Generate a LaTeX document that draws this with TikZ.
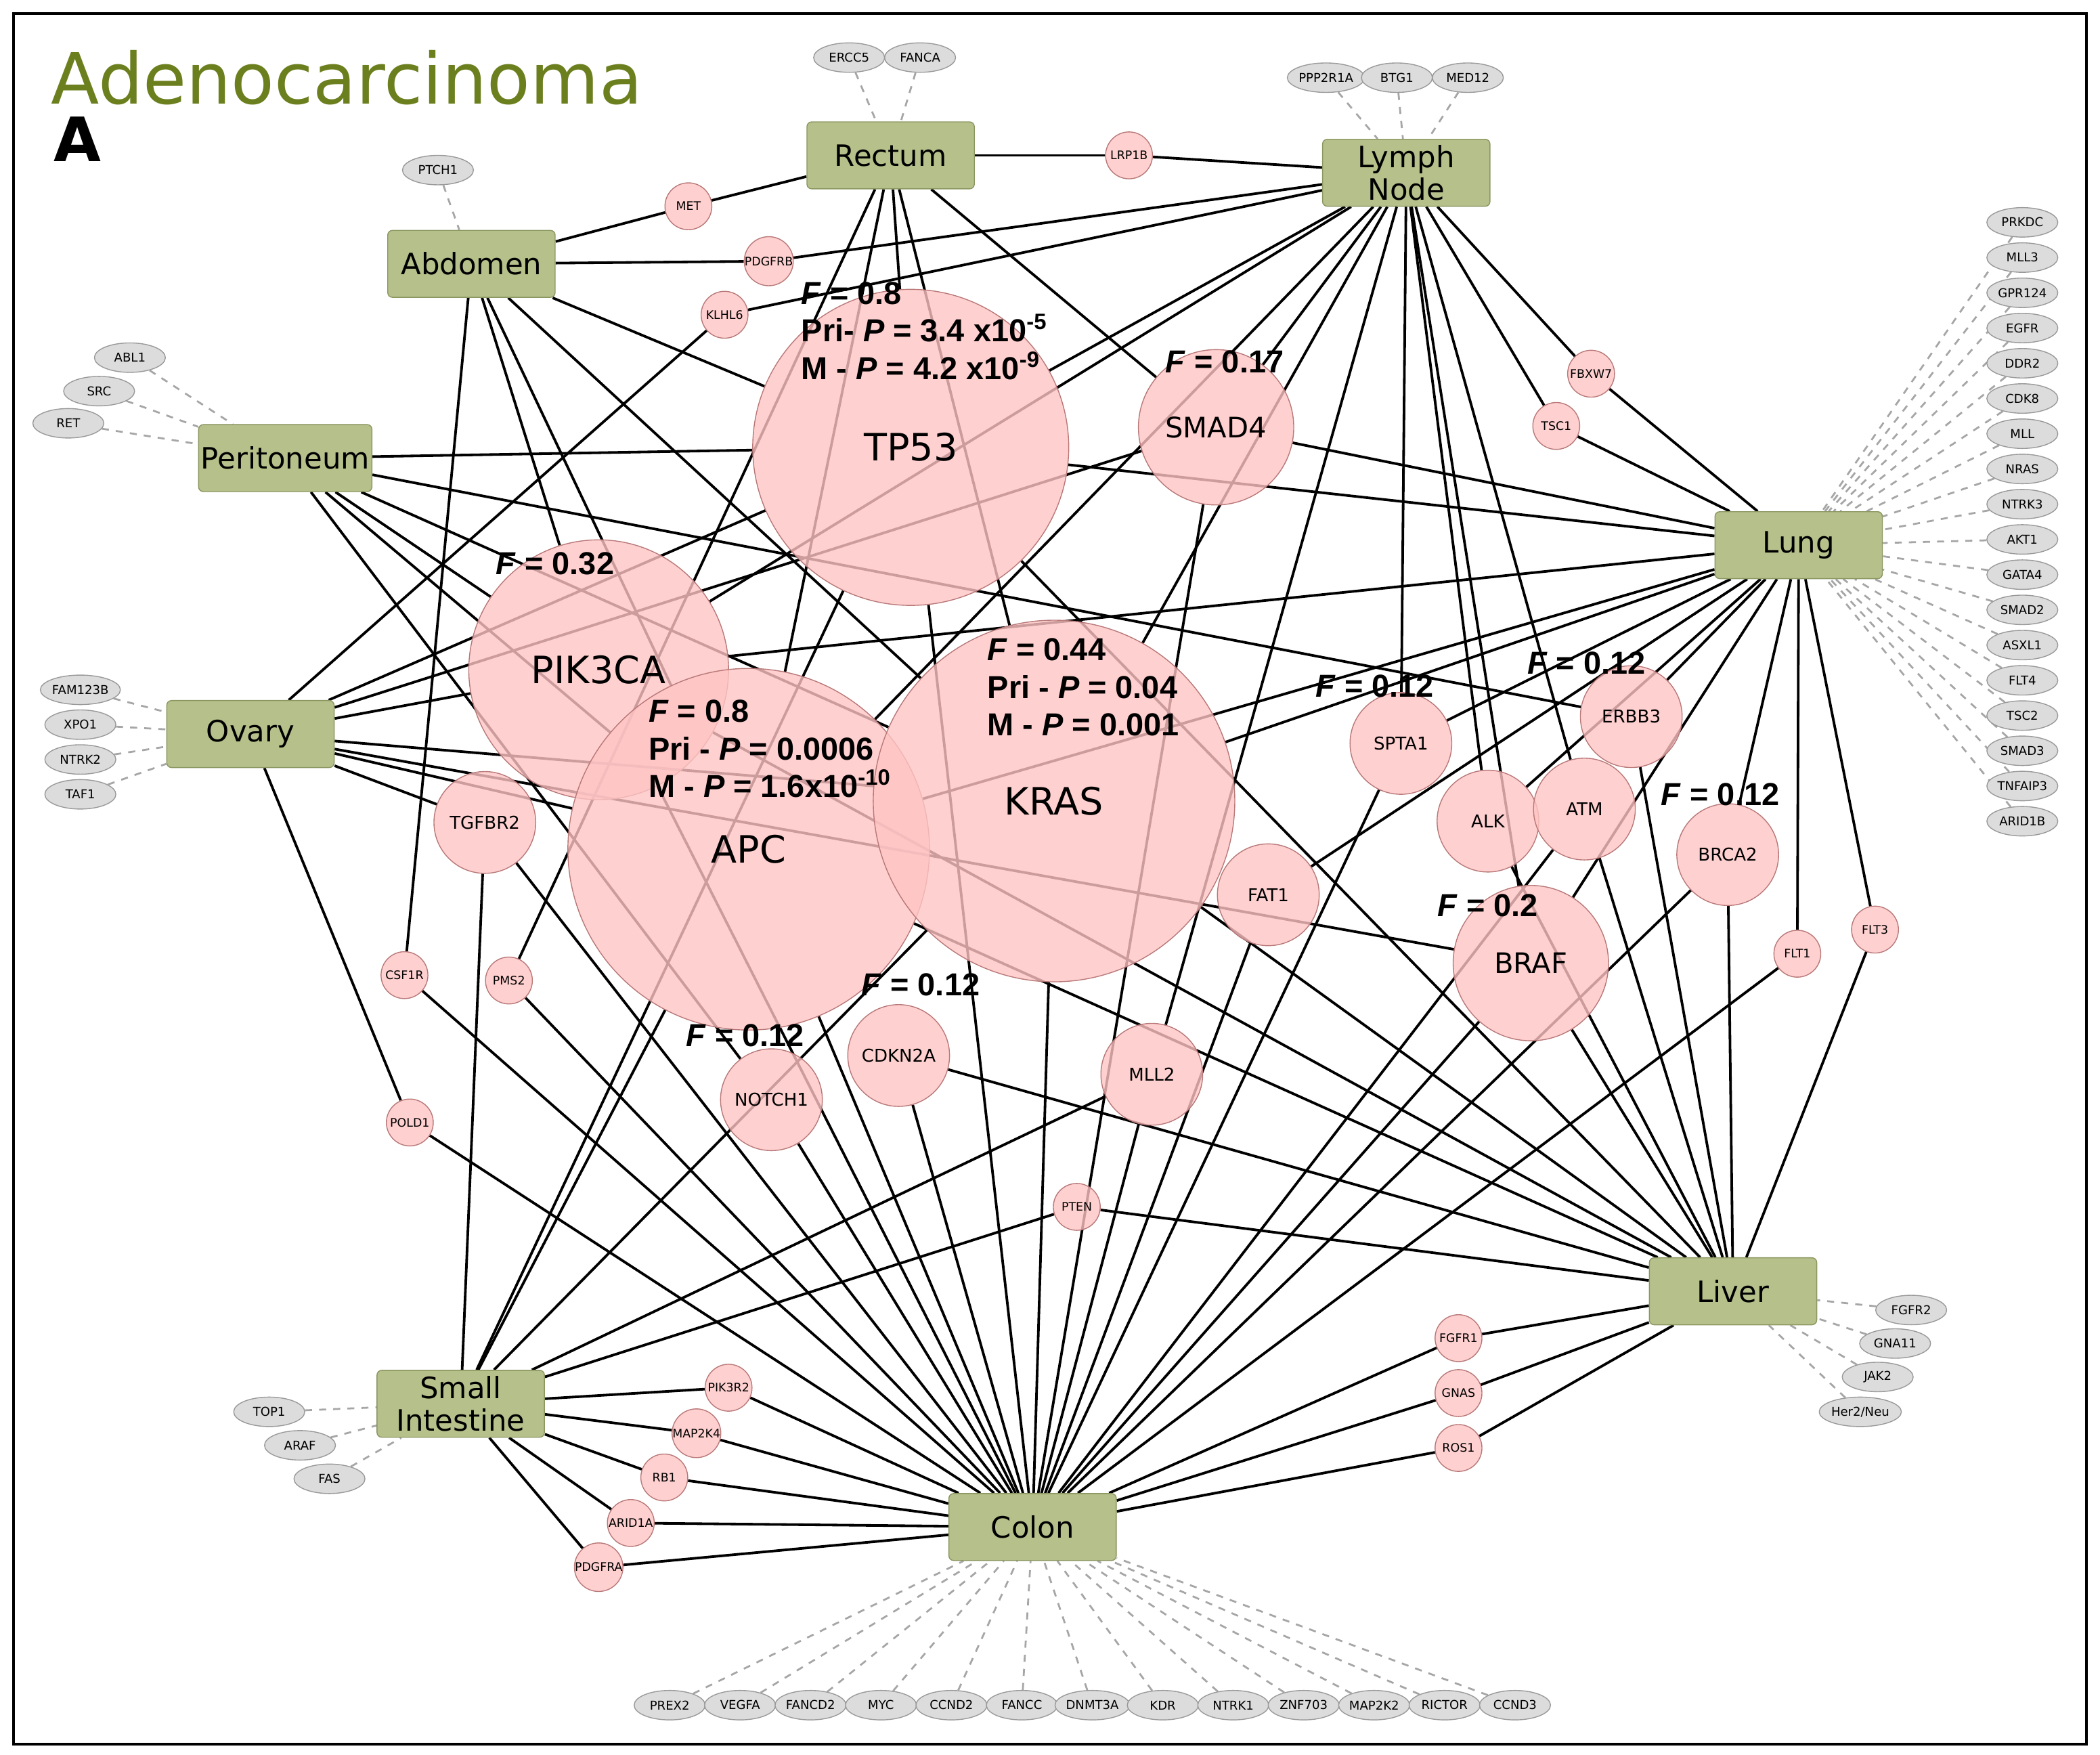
\documentclass[tikz,border=0pt]{standalone}
\usepackage{fontspec}
\setmainfont{DejaVu Sans}
\newfontfamily\lab{Liberation Sans}
\usetikzlibrary{backgrounds,shapes.geometric}
\definecolor{tis}{HTML}{B5C08A}
\definecolor{tisd}{HTML}{8A9660}
\definecolor{pk}{HTML}{FFC4C4}
\definecolor{pkd}{HTML}{B87878}
\definecolor{gy}{HTML}{DCDCDC}
\definecolor{olv}{HTML}{6B7F1E}
\tikzset{
 tissue/.style={rectangle,rounded corners=2pt,fill=tis,draw=tisd,minimum width=2.5cm,minimum height=1cm,align=center,font=\fontsize{12.5}{14}\selectfont,inner sep=1pt},
 gene/.style={circle,fill=pk,fill opacity=0.8,text opacity=1,draw=pkd,inner sep=0pt,font=\fontsize{#1}{#1}\selectfont},
 big/.style={gene=16,minimum size=5.4cm},
 gtp/.style={gene=16,minimum size=4.72cm},
 gpk/.style={gene=16,minimum size=3.88cm},
 gmd/.style={gene=12,minimum size=2.32cm},
 gsm/.style={gene=7.5,minimum size=1.52cm},
 gti/.style={gene=5,minimum size=0.7cm},
 grey/.style={ellipse,fill=gy,draw=gray!80,inner sep=0pt,minimum width=1.06cm,minimum height=0.44cm,font=\fontsize{5.2}{6}\selectfont},
 edge/.style={line width=1.1pt,black},
 gdash/.style={gray!70,dashed,line width=0.8pt},
 flab/.style={anchor=west,font=\lab\bfseries\fontsize{13.5}{15}\selectfont,align=left,inner sep=0pt},
}
\begin{document}
\begin{tikzpicture}[x=0.02cm,y=-0.02cm]
\useasboundingbox (0,0) rectangle (1568,1310);
\draw[line width=1.2pt] (10,10) rectangle (1558,1302);
\node[anchor=west,text=olv,font=\fontsize{30}{32}\selectfont] (title) at (32,58) {Adenocarcinoma};
\node[anchor=west,font=\bfseries\fontsize{26}{28}\selectfont] (lettera) at (34,104) {A};
% tissues
\node[tissue] (rectum) at (665,116) {Rectum};
\node[tissue] (lymph) at (1050,129) {Lymph\\Node};
\node[tissue] (abdomen) at (352,197) {Abdomen};
\node[tissue] (perit) at (213,342) {Peritoneum};
\node[tissue] (ovary) at (187,548) {Ovary};
\node[tissue] (lung) at (1343,407) {Lung};
\node[tissue] (liver) at (1294,964) {Liver};
\node[tissue] (smint) at (344,1048) {Small\\Intestine};
\node[tissue] (colon) at (771,1140) {Colon};
% genes
\node[gtp] (tp53) at (680,334) {TP53};
\node[gmd] (smad4) at (908,319) {SMAD4};
\node[gpk] (pik3ca) at (447,500) {PIK3CA};
\node[big] (apc) at (559,634) {APC};
\node[big] (kras) at (787,598) {KRAS};
\node[gsm] (spta1) at (1046,555) {SPTA1};
\node[gsm] (erbb3) at (1218,535) {ERBB3};
\node[gsm] (alk) at (1111,613) {ALK};
\node[gsm] (atm) at (1183,604) {ATM};
\node[gsm] (brca2) at (1290,638) {BRCA2};
\node[gmd] (braf) at (1143,719) {BRAF};
\node[gsm] (fat1) at (947,668) {FAT1};
\node[gsm] (tgfbr2) at (362,614) {TGFBR2};
\node[gsm] (cdkn2a) at (671,788) {CDKN2A};
\node[gsm] (notch1) at (576,821) {NOTCH1};
\node[gsm] (mll2) at (860,802) {MLL2};
\foreach \n/\t/\x/\y in {met/MET/514/154, lrp1b/LRP1B/843/116, pdgfrb/PDGFRB/574/195, klhl6/KLHL6/541/235, fbxw7/FBXW7/1188/279, tsc1/TSC1/1162/318, flt1/FLT1/1342/712, flt3/FLT3/1400/694, csf1r/CSF1R/302/728, pms2/PMS2/380/732, pold1/POLD1/306/838, pten/PTEN/804/901, fgfr1/FGFR1/1089/999, gnas/GNAS/1089/1040, ros1/ROS1/1089/1081, pik3r2/PIK3R2/544/1036, map2k4/MAP2K4/520/1070, rb1/RB1/496/1103, arid1a/ARID1A/471/1137, pdgfra/PDGFRA/447/1170}
  \node[gti] (\n) at (\x,\y) {\t};
% grey nodes
\foreach \n/\t/\x/\y/\p in {ercc5/ERCC5/634/43/rectum, fanca/FANCA/687/43/rectum, ppp/PPP2R1A/990/58/lymph, btg1/BTG1/1043/58/lymph, med12/MED12/1096/58/lymph, ptch1/PTCH1/327/127/abdomen, abl1/ABL1/97/267/perit, src/SRC/74/292/perit, ret/RET/51/316/perit, fam/FAM123B/60/515/ovary, xpo1/XPO1/60/541/ovary, ntrk2/NTRK2/60/567/ovary, taf1/TAF1/60/593/ovary, fgfr2/FGFR2/1427/978/liver, gna11/GNA11/1415/1003/liver, jak2/JAK2/1402/1028/liver, her2/Her2\slash Neu/1389/1054/liver, top1/TOP1/201/1054/smint, araf/ARAF/224/1079/smint, fas/FAS/246/1104/smint}
  {\node[grey] (\n) at (\x,\y) {\t};
   \begin{pgfonlayer}{background}\draw[gdash] (\n) -- (\p);\end{pgfonlayer}}
\foreach \t [count=\i] in {PRKDC,MLL3,GPR124,EGFR,DDR2,CDK8,MLL,NRAS,NTRK3,AKT1,GATA4,SMAD2,ASXL1,FLT4,TSC2,SMAD3,TNFAIP3,ARID1B}
  {\node[grey] (lg\i) at (1510,{166+(\i-1)*26.3}) {\t};
   \begin{pgfonlayer}{background}\draw[gdash] (lg\i) -- (lung);\end{pgfonlayer}}
\foreach \t [count=\i] in {PREX2,VEGFA,FANCD2,MYC,CCND2,FANCC,DNMT3A,KDR,NTRK1,ZNF703,MAP2K2,RICTOR,CCND3}
  {\node[grey] (cb\i) at ({500+(\i-1)*52.6},1273) {\t};
   \begin{pgfonlayer}{background}\draw[gdash] (cb\i) -- (colon);\end{pgfonlayer}}
% edges
\begin{pgfonlayer}{background}
\foreach \a/\b in {met/abdomen,met/rectum,lrp1b/rectum,lrp1b/lymph,pdgfrb/abdomen,pdgfrb/lymph,klhl6/ovary,klhl6/lymph,
 tp53/rectum,tp53/lymph,tp53/abdomen,tp53/perit,tp53/ovary,tp53/lung,tp53/colon,tp53/smint,tp53/liver,
 apc/rectum,apc/abdomen,apc/perit,apc/ovary,apc/lung,apc/colon,apc/smint,apc/liver,apc/lymph,
 kras/rectum,kras/lymph,kras/abdomen,kras/perit,kras/ovary,kras/lung,kras/colon,kras/smint,kras/liver,
 pik3ca/abdomen,pik3ca/perit,pik3ca/ovary,pik3ca/lung,pik3ca/colon,pik3ca/liver,pik3ca/lymph,
 smad4/rectum,smad4/lymph,smad4/lung,smad4/colon,smad4/ovary,
 spta1/lymph,spta1/lung,spta1/colon,erbb3/perit,erbb3/lung,erbb3/liver,alk/lymph,alk/lung,alk/liver,
 atm/lymph,atm/colon,atm/liver,brca2/lung,brca2/colon,brca2/liver,braf/lymph,braf/lung,braf/liver,braf/colon,braf/ovary,
 fat1/lung,fat1/colon,tgfbr2/ovary,tgfbr2/colon,tgfbr2/smint,cdkn2a/colon,cdkn2a/liver,notch1/perit,notch1/colon,
 mll2/lymph,mll2/colon,mll2/smint,fbxw7/lymph,fbxw7/lung,tsc1/lymph,tsc1/lung,flt1/lung,flt1/colon,flt3/lung,flt3/liver,
 csf1r/abdomen,csf1r/colon,pms2/rectum,pms2/colon,pold1/ovary,pold1/colon,pten/smint,pten/liver,
 fgfr1/liver,fgfr1/colon,gnas/liver,gnas/colon,ros1/liver,ros1/colon,
 pik3r2/smint,pik3r2/colon,map2k4/smint,map2k4/colon,rb1/smint,rb1/colon,arid1a/smint,arid1a/colon,pdgfra/smint,pdgfra/colon}
 \draw[edge] (\a) -- (\b);
\end{pgfonlayer}
% labels
\node[flab] (l1) at (598,247) {\textit{F} = 0.8\\[1pt]Pri- \textit{P} = 3.4 x10\textsuperscript{-5}\\[1pt]M - \textit{P} = 4.2 x10\textsuperscript{-9}};
\node[flab] (l2) at (870,270) {\textit{F} = 0.17};
\node[flab] (l3) at (370,421) {\textit{F} = 0.32};
\node[flab] (l4) at (484,559) {\textit{F} = 0.8\\[1pt]Pri - \textit{P} = 0.0006\\[1pt]M - \textit{P} = 1.6x10\textsuperscript{-10}};
\node[flab] (l5) at (737,513) {\textit{F} = 0.44\\[1pt]Pri - \textit{P} = 0.04\\[1pt]M - \textit{P} = 0.001};
\node[flab] (l6) at (982,512) {\textit{F} = 0.12};
\node[flab] (l7) at (1140,495) {\textit{F} = 0.12};
\node[flab] (l8) at (1240,593) {\textit{F} = 0.12};
\node[flab] (l9) at (643,735) {\textit{F} = 0.12};
\node[flab] (l10) at (512,773) {\textit{F} = 0.12};
\node[flab] (l11) at (1073,676) {\textit{F} = 0.2};
\end{tikzpicture}
\end{document}
